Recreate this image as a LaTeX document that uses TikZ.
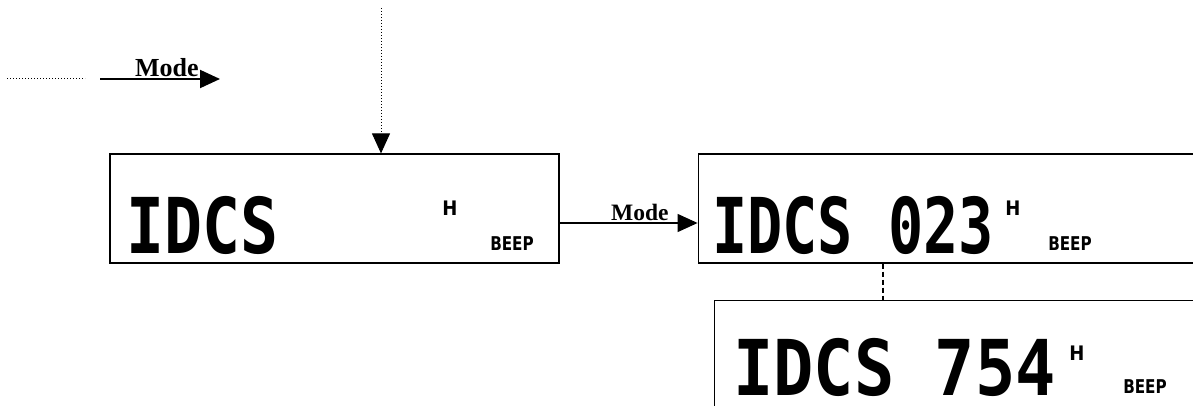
\documentclass[tikz,border=0pt]{standalone}
\usepackage{fontspec}
\setmainfont{Liberation Serif}
\newfontfamily\lcdfont{DejaVu Sans Mono}
\newfontfamily\tagfont{DejaVu Sans}
\usetikzlibrary{arrows.meta,positioning}

\tikzset{
  disp/.style={draw,line width=1.2pt,minimum width=449pt,minimum height=109pt,inner sep=0pt},
  lcd/.style={anchor=base west,inner sep=0pt,text depth=0pt,font=\lcdfont\bfseries\fontsize{77}{77}\selectfont},
  hmark/.style={inner sep=0pt,font=\tagfont\bfseries\fontsize{20}{20}\selectfont},
  beep/.style={inner sep=0pt,font=\tagfont\bfseries\fontsize{19}{19}\selectfont},
  modelbl/.style={anchor=base west,inner sep=0pt,font=\bfseries\fontsize{23.5}{23.5}\selectfont},
  modetip/.style={-{Triangle[length=20pt,width=18pt]}}
}

\begin{document}
\begin{tikzpicture}[x=1pt,y=-1pt]
      \useasboundingbox (0,0) rectangle (1193,406);
      \clip (0,0) rectangle (1193,406);
      %% Displays
      \node[disp] (1) at (334.5,208.5) {};
      \node[disp,minimum width=520pt,right=138pt of 1] (2) {};
      \node[disp,minimum width=520pt,anchor=north west] (3) at ([xshift=16pt,yshift=-36pt]2.south west) {};
      %% Display contents
      \node[lcd] (t1) at (126,253) {\scalebox{0.82}[1]{IDCS}};
      \node[hmark] (h1) at (450,208) {\scalebox{0.9}[1]{H}};
      \node[beep] (b1) at (512,244) {\scalebox{0.8}[1]{BEEP}};
      \node[lcd] (t2) at (712,253) {\scalebox{0.76}[1]{IDCS 023}};
      \node[hmark] (h2) at (1013,208) {\scalebox{0.9}[1]{H}};
      \node[beep] (b2) at (1070,244) {\scalebox{0.8}[1]{BEEP}};
      \node[lcd] (t3) at (733,395) {\scalebox{0.87}[1]{IDCS 754}};
      \node[hmark] (h3) at (1077,353) {\scalebox{0.9}[1]{H}};
      \node[beep] (b3) at (1145,387) {\scalebox{0.8}[1]{BEEP}};
      %% Top arrows
      \coordinate (s0) at (7,79);
      \coordinate (s1) at (85,79);
      \coordinate (m0) at (100,79);
      \coordinate (m1) at (220,79);
      \coordinate (top) at (381,8);
      \draw[dotted,line width=1pt] (s0) -- (s1);
      \draw[modetip,line width=2pt] (m0) -- (m1);
      \node[modelbl,font=\bfseries\fontsize{26}{26}\selectfont] (l1) at (135,77) {Mode};
      \draw[modetip,dotted,line width=1pt] (top) -- (top |- 1.north);
      %% Mode arrow between displays
      \draw[modetip,line width=1.2pt] ([yshift=-14.5pt]1.east) -- ([yshift=-14.5pt]2.west);
      \node[modelbl] (l2) at (611,220) {Mode};
      %% Dashed link
      \coordinate (dv) at (883,0);
      \draw[dash pattern=on 5pt off 3pt,line width=1.2pt] (2.south -| dv) -- (3.north -| dv);
    \end{tikzpicture}
\end{document}
